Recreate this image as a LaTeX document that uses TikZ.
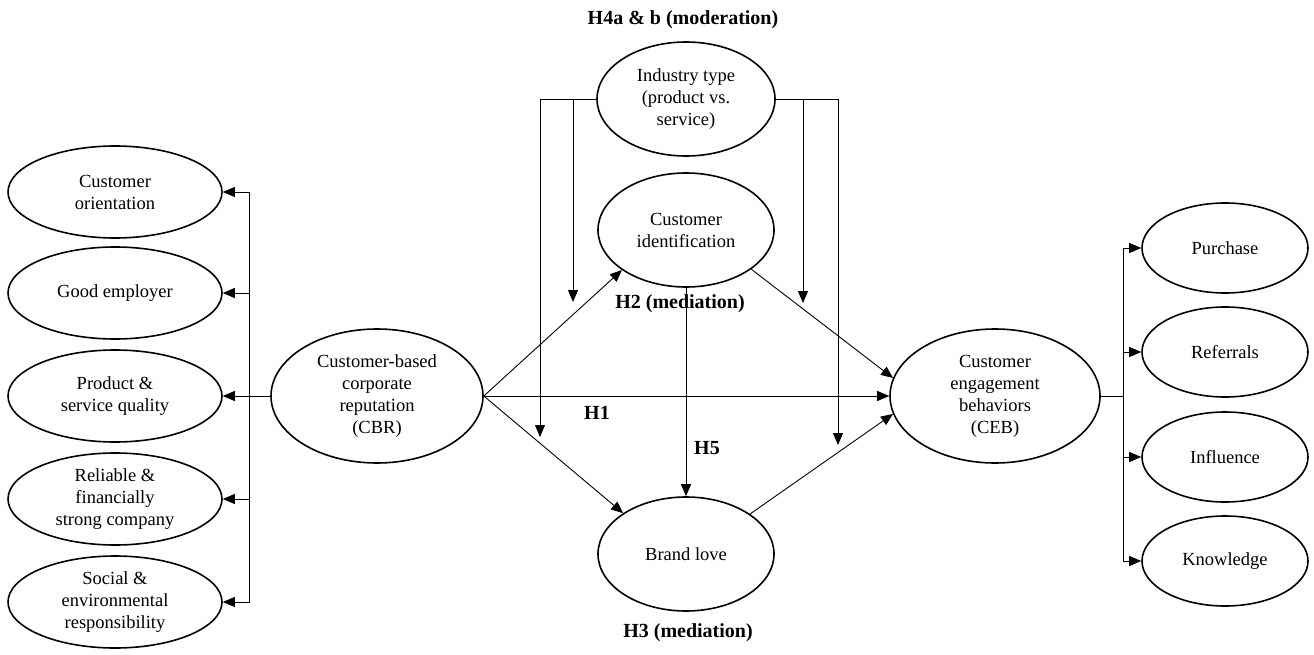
\documentclass[tikz,border=0pt]{standalone}
\usepackage{fontspec}
\setmainfont{Liberation Serif}
\usetikzlibrary{shapes.geometric,arrows.meta}
\begin{document}
\begin{tikzpicture}[x=1pt,y=-1pt,
  ell/.style={ellipse,draw,line width=1.6pt,inner sep=0pt,align=center,
    font=\fontsize{18.5}{22}\selectfont},
  lellipse/.style={ell,minimum width=214pt,minimum height=92pt},
  rellipse/.style={ell,minimum width=166pt,minimum height=90pt},
  midell/.style={ell,minimum width=178pt,minimum height=114pt},
  bigell/.style={ell,minimum width=212pt,minimum height=134pt},
  conn/.style={line width=0.9pt},
  arr/.style={conn,-{Triangle[length=12pt,width=10pt]}},
  hlabel/.style={font=\fontsize{20}{24}\selectfont\bfseries}]
\useasboundingbox (0,0) rectangle (1314,655);
% left constructs
\node[lellipse] (co) at (115,192) {Customer\\orientation};
\node[lellipse] (ge) at (115,293) {Good employer};
\node[lellipse] (pq) at (115,396) {Product \&\\service quality};
\node[lellipse] (rf) at (115,499) {Reliable \&\\financially\\strong company};
\node[lellipse] (se) at (115,602) {Social \&\\environmental\\responsibility};
% main constructs
\node[bigell] (cbr) at (377,396) {Customer-based\\corporate\\reputation\\(CBR)};
\node[midell] (ind) at (686,99) {Industry type\\(product vs.\\service)};
\node[midell,minimum width=176pt] (cid) at (686,230) {Customer\\identification};
\node[midell,minimum width=176pt] (bl) at (686,554) {Brand love};
\node[bigell,minimum width=210pt] (ceb) at (995,396) {Customer\\engagement\\behaviors\\(CEB)};
% right constructs
\node[rellipse] (pu) at (1225,248) {Purchase};
\node[rellipse] (re) at (1225,352) {Referrals};
\node[rellipse] (in) at (1225,457) {Influence};
\node[rellipse] (kn) at (1225,561) {Knowledge};
% labels
\node[hlabel] (l4) at (683,20) {H4a \& b (moderation)};
\node[hlabel] (l2) at (680,304) {H2 (mediation)};
\node[hlabel] (l3) at (688,633) {H3 (mediation)};
\node[hlabel] (l1) at (597,413) {H1};
\node[hlabel] (l5) at (707,448) {H5};
% left bus
\coordinate (lb) at (249,396);
\draw[conn] (cbr.west) -- (lb);
\draw[arr] (lb) |- (co.east);
\draw[arr] (lb) |- (ge.east);
\draw[arr] (lb) -- (pq.east);
\draw[arr] (lb) |- (rf.east);
\draw[arr] (lb) |- (se.east);
% right bus
\coordinate (rb) at (1123,396);
\draw[conn] (ceb.east) -- (rb);
\draw[arr] (rb) |- (pu.west);
\draw[arr] (rb) |- (re.west);
\draw[arr] (rb) |- (in.west);
\draw[arr] (rb) |- (kn.west);
% structural paths
\draw[arr] (cbr.east) -- (ceb.west);
\draw[arr] (cbr.east) -- (cid.212);
\draw[arr] (cbr.east) -- (bl.147);
\draw[arr] (cid.329) -- (ceb.170);
\draw[arr] (bl.32) -- (ceb.190);
\draw[arr] (cid.south) -- (bl.north);
% moderation
\coordinate (ml1) at (540,437);
\coordinate (ml2) at (573,302);
\coordinate (mr1) at (803,303);
\coordinate (mr2) at (838,445);
\draw[arr] (ind.west) -| (ml1);
\draw[arr] (ind.west -| ml2) -- (ml2);
\draw[arr] (ind.east) -| (mr2);
\draw[arr] (ind.east -| mr1) -- (mr1);
\end{tikzpicture}
\end{document}
